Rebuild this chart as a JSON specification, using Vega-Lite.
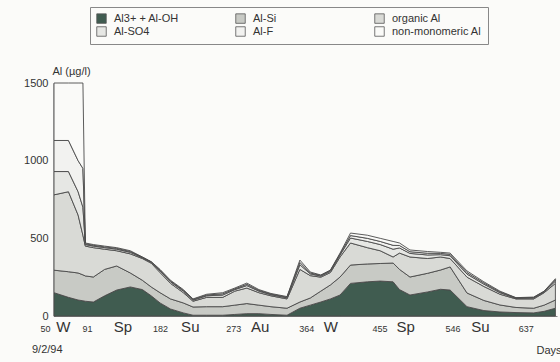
{
  "$schema": "https://vega.github.io/schema/vega-lite/v6.json",
  "width": 503,
  "height": 233,
  "autosize": {"type": "none"},
  "padding": {"left": 54, "top": 83, "right": 3, "bottom": 46},
  "background": "#fbfbf9",
  "config": {
    "font": "Liberation Sans",
    "view": {"stroke": null},
    "axis": {"grid": false, "labelColor": "#333", "titleColor": "#333", "domainColor": "#333", "ticks": false}
  },
  "datasets": {
    "al": [
      {"d":50,"s":"Al3+ + Al-OH","i":1,"v":150},{"d":50,"s":"Al-Si","i":2,"v":145},{"d":50,"s":"organic Al","i":3,"v":485},{"d":50,"s":"Al-SO4","i":4,"v":150},{"d":50,"s":"Al-F","i":5,"v":200},{"d":50,"s":"non-monomeric Al","i":6,"v":370},
      {"d":68,"s":"Al3+ + Al-OH","i":1,"v":120},{"d":68,"s":"Al-Si","i":2,"v":165},{"d":68,"s":"organic Al","i":3,"v":515},{"d":68,"s":"Al-SO4","i":4,"v":130},{"d":68,"s":"Al-F","i":5,"v":200},{"d":68,"s":"non-monomeric Al","i":6,"v":370},
      {"d":80,"s":"Al3+ + Al-OH","i":1,"v":103},{"d":80,"s":"Al-Si","i":2,"v":174},{"d":80,"s":"organic Al","i":3,"v":373},{"d":80,"s":"Al-SO4","i":4,"v":150},{"d":80,"s":"Al-F","i":5,"v":200},{"d":80,"s":"non-monomeric Al","i":6,"v":500},
      {"d":86,"s":"Al3+ + Al-OH","i":1,"v":98},{"d":86,"s":"Al-Si","i":2,"v":167},{"d":86,"s":"organic Al","i":3,"v":255},{"d":86,"s":"Al-SO4","i":4,"v":180},{"d":86,"s":"Al-F","i":5,"v":250},{"d":86,"s":"non-monomeric Al","i":6,"v":550},
      {"d":89,"s":"Al3+ + Al-OH","i":1,"v":95},{"d":89,"s":"Al-Si","i":2,"v":163},{"d":89,"s":"organic Al","i":3,"v":192},{"d":89,"s":"Al-SO4","i":4,"v":10},{"d":89,"s":"Al-F","i":5,"v":5},{"d":89,"s":"non-monomeric Al","i":6,"v":5},
      {"d":99,"s":"Al3+ + Al-OH","i":1,"v":90},{"d":99,"s":"Al-Si","i":2,"v":161},{"d":99,"s":"organic Al","i":3,"v":189},{"d":99,"s":"Al-SO4","i":4,"v":10},{"d":99,"s":"Al-F","i":5,"v":5},{"d":99,"s":"non-monomeric Al","i":6,"v":5},
      {"d":113,"s":"Al3+ + Al-OH","i":1,"v":130},{"d":113,"s":"Al-Si","i":2,"v":170},{"d":113,"s":"organic Al","i":3,"v":130},{"d":113,"s":"Al-SO4","i":4,"v":10},{"d":113,"s":"Al-F","i":5,"v":5},{"d":113,"s":"non-monomeric Al","i":6,"v":5},
      {"d":128,"s":"Al3+ + Al-OH","i":1,"v":167},{"d":128,"s":"Al-Si","i":2,"v":155},{"d":128,"s":"organic Al","i":3,"v":98},{"d":128,"s":"Al-SO4","i":4,"v":10},{"d":128,"s":"Al-F","i":5,"v":5},{"d":128,"s":"non-monomeric Al","i":6,"v":5},
      {"d":145,"s":"Al3+ + Al-OH","i":1,"v":187},{"d":145,"s":"Al-Si","i":2,"v":90},{"d":145,"s":"organic Al","i":3,"v":123},{"d":145,"s":"Al-SO4","i":4,"v":10},{"d":145,"s":"Al-F","i":5,"v":5},{"d":145,"s":"non-monomeric Al","i":6,"v":5},
      {"d":160,"s":"Al3+ + Al-OH","i":1,"v":170},{"d":160,"s":"Al-Si","i":2,"v":60},{"d":160,"s":"organic Al","i":3,"v":140},{"d":160,"s":"Al-SO4","i":4,"v":5},{"d":160,"s":"Al-F","i":5,"v":3},{"d":160,"s":"non-monomeric Al","i":6,"v":2},
      {"d":171,"s":"Al3+ + Al-OH","i":1,"v":130},{"d":171,"s":"Al-Si","i":2,"v":57},{"d":171,"s":"organic Al","i":3,"v":153},{"d":171,"s":"Al-SO4","i":4,"v":5},{"d":171,"s":"Al-F","i":5,"v":3},{"d":171,"s":"non-monomeric Al","i":6,"v":2},
      {"d":182,"s":"Al3+ + Al-OH","i":1,"v":84},{"d":182,"s":"Al-Si","i":2,"v":66},{"d":182,"s":"organic Al","i":3,"v":130},{"d":182,"s":"Al-SO4","i":4,"v":10},{"d":182,"s":"Al-F","i":5,"v":5},{"d":182,"s":"non-monomeric Al","i":6,"v":5},
      {"d":195,"s":"Al3+ + Al-OH","i":1,"v":45},{"d":195,"s":"Al-Si","i":2,"v":65},{"d":195,"s":"organic Al","i":3,"v":100},{"d":195,"s":"Al-SO4","i":4,"v":10},{"d":195,"s":"Al-F","i":5,"v":5},{"d":195,"s":"non-monomeric Al","i":6,"v":5},
      {"d":211,"s":"Al3+ + Al-OH","i":1,"v":20},{"d":211,"s":"Al-Si","i":2,"v":64},{"d":211,"s":"organic Al","i":3,"v":66},{"d":211,"s":"Al-SO4","i":4,"v":10},{"d":211,"s":"Al-F","i":5,"v":5},{"d":211,"s":"non-monomeric Al","i":6,"v":5},
      {"d":223,"s":"Al3+ + Al-OH","i":1,"v":5},{"d":223,"s":"Al-Si","i":2,"v":53},{"d":223,"s":"organic Al","i":3,"v":37},{"d":223,"s":"Al-SO4","i":4,"v":7},{"d":223,"s":"Al-F","i":5,"v":4},{"d":223,"s":"non-monomeric Al","i":6,"v":4},
      {"d":240,"s":"Al3+ + Al-OH","i":1,"v":5},{"d":240,"s":"Al-Si","i":2,"v":55},{"d":240,"s":"organic Al","i":3,"v":60},{"d":240,"s":"Al-SO4","i":4,"v":10},{"d":240,"s":"Al-F","i":5,"v":5},{"d":240,"s":"non-monomeric Al","i":6,"v":5},
      {"d":260,"s":"Al3+ + Al-OH","i":1,"v":5},{"d":260,"s":"Al-Si","i":2,"v":55},{"d":260,"s":"organic Al","i":3,"v":60},{"d":260,"s":"Al-SO4","i":4,"v":15},{"d":260,"s":"Al-F","i":5,"v":8},{"d":260,"s":"non-monomeric Al","i":6,"v":7},
      {"d":275,"s":"Al3+ + Al-OH","i":1,"v":10},{"d":275,"s":"Al-Si","i":2,"v":60},{"d":275,"s":"organic Al","i":3,"v":90},{"d":275,"s":"Al-SO4","i":4,"v":10},{"d":275,"s":"Al-F","i":5,"v":5},{"d":275,"s":"non-monomeric Al","i":6,"v":5},
      {"d":290,"s":"Al3+ + Al-OH","i":1,"v":15},{"d":290,"s":"Al-Si","i":2,"v":65},{"d":290,"s":"organic Al","i":3,"v":100},{"d":290,"s":"Al-SO4","i":4,"v":16},{"d":290,"s":"Al-F","i":5,"v":8},{"d":290,"s":"non-monomeric Al","i":6,"v":8},
      {"d":305,"s":"Al3+ + Al-OH","i":1,"v":15},{"d":305,"s":"Al-Si","i":2,"v":55},{"d":305,"s":"organic Al","i":3,"v":80},{"d":305,"s":"Al-SO4","i":4,"v":10},{"d":305,"s":"Al-F","i":5,"v":5},{"d":305,"s":"non-monomeric Al","i":6,"v":5},
      {"d":320,"s":"Al3+ + Al-OH","i":1,"v":10},{"d":320,"s":"Al-Si","i":2,"v":50},{"d":320,"s":"organic Al","i":3,"v":70},{"d":320,"s":"Al-SO4","i":4,"v":7},{"d":320,"s":"Al-F","i":5,"v":4},{"d":320,"s":"non-monomeric Al","i":6,"v":4},
      {"d":340,"s":"Al3+ + Al-OH","i":1,"v":5},{"d":340,"s":"Al-Si","i":2,"v":45},{"d":340,"s":"organic Al","i":3,"v":60},{"d":340,"s":"Al-SO4","i":4,"v":7},{"d":340,"s":"Al-F","i":5,"v":4},{"d":340,"s":"non-monomeric Al","i":6,"v":4},
      {"d":356,"s":"Al3+ + Al-OH","i":1,"v":50},{"d":356,"s":"Al-Si","i":2,"v":40},{"d":356,"s":"organic Al","i":3,"v":210},{"d":356,"s":"Al-SO4","i":4,"v":30},{"d":356,"s":"Al-F","i":5,"v":15},{"d":356,"s":"non-monomeric Al","i":6,"v":15},
      {"d":369,"s":"Al3+ + Al-OH","i":1,"v":70},{"d":369,"s":"Al-Si","i":2,"v":46},{"d":369,"s":"organic Al","i":3,"v":144},{"d":369,"s":"Al-SO4","i":4,"v":11},{"d":369,"s":"Al-F","i":5,"v":6},{"d":369,"s":"non-monomeric Al","i":6,"v":6},
      {"d":382,"s":"Al3+ + Al-OH","i":1,"v":90},{"d":382,"s":"Al-Si","i":2,"v":70},{"d":382,"s":"organic Al","i":3,"v":90},{"d":382,"s":"Al-SO4","i":4,"v":7},{"d":382,"s":"Al-F","i":5,"v":4},{"d":382,"s":"non-monomeric Al","i":6,"v":3},
      {"d":394,"s":"Al3+ + Al-OH","i":1,"v":110},{"d":394,"s":"Al-Si","i":2,"v":90},{"d":394,"s":"organic Al","i":3,"v":80},{"d":394,"s":"Al-SO4","i":4,"v":8},{"d":394,"s":"Al-F","i":5,"v":4},{"d":394,"s":"non-monomeric Al","i":6,"v":4},
      {"d":406,"s":"Al3+ + Al-OH","i":1,"v":135},{"d":406,"s":"Al-Si","i":2,"v":116},{"d":406,"s":"organic Al","i":3,"v":129},{"d":406,"s":"Al-SO4","i":4,"v":13},{"d":406,"s":"Al-F","i":5,"v":6},{"d":406,"s":"non-monomeric Al","i":6,"v":6},
      {"d":419,"s":"Al3+ + Al-OH","i":1,"v":210},{"d":419,"s":"Al-Si","i":2,"v":118},{"d":419,"s":"organic Al","i":3,"v":142},{"d":419,"s":"Al-SO4","i":4,"v":32},{"d":419,"s":"Al-F","i":5,"v":16},{"d":419,"s":"non-monomeric Al","i":6,"v":16},
      {"d":440,"s":"Al3+ + Al-OH","i":1,"v":220},{"d":440,"s":"Al-Si","i":2,"v":115},{"d":440,"s":"organic Al","i":3,"v":105},{"d":440,"s":"Al-SO4","i":4,"v":40},{"d":440,"s":"Al-F","i":5,"v":20},{"d":440,"s":"non-monomeric Al","i":6,"v":20},
      {"d":456,"s":"Al3+ + Al-OH","i":1,"v":225},{"d":456,"s":"Al-Si","i":2,"v":113},{"d":456,"s":"organic Al","i":3,"v":82},{"d":456,"s":"Al-SO4","i":4,"v":40},{"d":456,"s":"Al-F","i":5,"v":20},{"d":456,"s":"non-monomeric Al","i":6,"v":20},
      {"d":472,"s":"Al3+ + Al-OH","i":1,"v":220},{"d":472,"s":"Al-Si","i":2,"v":121},{"d":472,"s":"organic Al","i":3,"v":39},{"d":472,"s":"Al-SO4","i":4,"v":50},{"d":472,"s":"Al-F","i":5,"v":25},{"d":472,"s":"non-monomeric Al","i":6,"v":25},
      {"d":480,"s":"Al3+ + Al-OH","i":1,"v":170},{"d":480,"s":"Al-Si","i":2,"v":130},{"d":480,"s":"organic Al","i":3,"v":105},{"d":480,"s":"Al-SO4","i":4,"v":33},{"d":480,"s":"Al-F","i":5,"v":16},{"d":480,"s":"non-monomeric Al","i":6,"v":16},
      {"d":493,"s":"Al3+ + Al-OH","i":1,"v":135},{"d":493,"s":"Al-Si","i":2,"v":116},{"d":493,"s":"organic Al","i":3,"v":129},{"d":493,"s":"Al-SO4","i":4,"v":23},{"d":493,"s":"Al-F","i":5,"v":11},{"d":493,"s":"non-monomeric Al","i":6,"v":11},
      {"d":515,"s":"Al3+ + Al-OH","i":1,"v":155},{"d":515,"s":"Al-Si","i":2,"v":120},{"d":515,"s":"organic Al","i":3,"v":95},{"d":515,"s":"Al-SO4","i":4,"v":23},{"d":515,"s":"Al-F","i":5,"v":11},{"d":515,"s":"non-monomeric Al","i":6,"v":11},
      {"d":531,"s":"Al3+ + Al-OH","i":1,"v":172},{"d":531,"s":"Al-Si","i":2,"v":124},{"d":531,"s":"organic Al","i":3,"v":84},{"d":531,"s":"Al-SO4","i":4,"v":15},{"d":531,"s":"Al-F","i":5,"v":8},{"d":531,"s":"non-monomeric Al","i":6,"v":7},
      {"d":543,"s":"Al3+ + Al-OH","i":1,"v":167},{"d":543,"s":"Al-Si","i":2,"v":149},{"d":543,"s":"organic Al","i":3,"v":54},{"d":543,"s":"Al-SO4","i":4,"v":18},{"d":543,"s":"Al-F","i":5,"v":9},{"d":543,"s":"non-monomeric Al","i":6,"v":8},
      {"d":564,"s":"Al3+ + Al-OH","i":1,"v":60},{"d":564,"s":"Al-Si","i":2,"v":88},{"d":564,"s":"organic Al","i":3,"v":102},{"d":564,"s":"Al-SO4","i":4,"v":20},{"d":564,"s":"Al-F","i":5,"v":10},{"d":564,"s":"non-monomeric Al","i":6,"v":10},
      {"d":585,"s":"Al3+ + Al-OH","i":1,"v":35},{"d":585,"s":"Al-Si","i":2,"v":65},{"d":585,"s":"organic Al","i":3,"v":90},{"d":585,"s":"Al-SO4","i":4,"v":15},{"d":585,"s":"Al-F","i":5,"v":8},{"d":585,"s":"non-monomeric Al","i":6,"v":7},
      {"d":605,"s":"Al3+ + Al-OH","i":1,"v":26},{"d":605,"s":"Al-Si","i":2,"v":45},{"d":605,"s":"organic Al","i":3,"v":69},{"d":605,"s":"Al-SO4","i":4,"v":10},{"d":605,"s":"Al-F","i":5,"v":5},{"d":605,"s":"non-monomeric Al","i":6,"v":5},
      {"d":625,"s":"Al3+ + Al-OH","i":1,"v":22},{"d":625,"s":"Al-Si","i":2,"v":33},{"d":625,"s":"organic Al","i":3,"v":55},{"d":625,"s":"Al-SO4","i":4,"v":4},{"d":625,"s":"Al-F","i":5,"v":2},{"d":625,"s":"non-monomeric Al","i":6,"v":2},
      {"d":647,"s":"Al3+ + Al-OH","i":1,"v":20},{"d":647,"s":"Al-Si","i":2,"v":30},{"d":647,"s":"organic Al","i":3,"v":60},{"d":647,"s":"Al-SO4","i":4,"v":6},{"d":647,"s":"Al-F","i":5,"v":3},{"d":647,"s":"non-monomeric Al","i":6,"v":3},
      {"d":660,"s":"Al3+ + Al-OH","i":1,"v":30},{"d":660,"s":"Al-Si","i":2,"v":40},{"d":660,"s":"organic Al","i":3,"v":80},{"d":660,"s":"Al-SO4","i":4,"v":5},{"d":660,"s":"Al-F","i":5,"v":3},{"d":660,"s":"non-monomeric Al","i":6,"v":2},
      {"d":674,"s":"Al3+ + Al-OH","i":1,"v":50},{"d":674,"s":"Al-Si","i":2,"v":53},{"d":674,"s":"organic Al","i":3,"v":107},{"d":674,"s":"Al-SO4","i":4,"v":15},{"d":674,"s":"Al-F","i":5,"v":8},{"d":674,"s":"non-monomeric Al","i":6,"v":7}
    ],
    "notes": [{"d": 50, "v": 0, "t": "9/2/94"}]
  },
  "encoding": {
    "x": {
      "field": "d", "type": "quantitative",
      "scale": {"domain": [50, 676], "nice": false, "zero": false},
      "axis": {
        "values": [50, 61, 91, 135, 182, 219, 273, 306, 364, 394, 455, 487, 546, 580, 637],
        "labelExpr": "datum.value == 61 || datum.value == 394 ? 'W' : datum.value == 135 || datum.value == 487 ? 'Sp' : datum.value == 219 || datum.value == 580 ? 'Su' : datum.value == 306 ? 'Au' : datum.label",
        "labelFontSize": {"condition": {"test": "indexof([61,135,219,306,394,487,580], datum.value) >= 0", "value": 15}, "value": 9},
        "labelOffset": {"condition": {"test": "datum.value == 50", "value": -9}, "value": 0},
        "labelBaseline": "alphabetic",
        "labelPadding": 15,
        "labelOverlap": false,
        "labelFlush": false,
        "domain": true,
        "domainWidth": 0.8,
        "domainColor": "#666",
        "title": "Days",
        "titleFontSize": 11,
        "titleFontWeight": "normal",
        "titleAnchor": "end",
        "titleAlign": "right",
        "titleBaseline": "alphabetic",
        "titleX": 507,
        "titleY": 37
      }
    },
    "y": {
      "field": "v", "type": "quantitative", "stack": "zero",
      "scale": {"domain": [0, 1500], "nice": false},
      "axis": {
        "values": [0, 500, 1000, 1500],
        "format": "d",
        "labelFontSize": 11,
        "labelPadding": 6,
        "domainWidth": 1.6,
        "domainColor": "#333",
        "title": "Al (µg/l)",
        "titleFontSize": 11,
        "titleFontWeight": "normal",
        "titleAngle": 0,
        "titleAlign": "left",
        "titleBaseline": "alphabetic",
        "titleX": -2,
        "titleY": -9
      }
    }
  },
  "layer": [
    {
      "data": {"name": "al"},
      "mark": {"type": "area", "stroke": "#4a4a4a", "strokeWidth": 0.9, "interpolate": "linear"},
      "encoding": {
        "order": {"field": "i", "type": "quantitative", "sort": "ascending"},
        "fill": {
          "field": "s", "type": "nominal",
          "scale": {
            "domain": ["Al3+ + Al-OH", "Al-Si", "organic Al", "Al-SO4", "Al-F", "non-monomeric Al"],
            "range": ["#405c50", "#c8cac5", "#d9dad6", "#e6e7e4", "#f2f2f0", "#fafaf8"]
          },
          "legend": {
            "orient": "none", "legendX": 36, "legendY": -76,
            "direction": "horizontal", "columns": 3, "gridAlign": "all",
            "columnPadding": 30, "rowPadding": 0,
            "title": null, "padding": 6,
            "strokeColor": "#888",
            "symbolType": "square", "symbolSize": 90,
            "symbolStrokeColor": "#555", "symbolStrokeWidth": 0.8,
            "labelFontSize": 11, "labelColor": "#333", "labelOffset": 7
          }
        },
        "strokeDash": {
          "field": "s", "type": "nominal",
          "scale": {
            "domain": ["Al3+ + Al-OH", "Al-Si", "organic Al", "Al-SO4", "Al-F", "non-monomeric Al"],
            "range": [[1, 0], [4, 2], [6, 2, 2, 2], [2, 2], [5, 3], [1, 0]]
          },
          "legend": null
        }
      }
    },
    {
      "data": {"name": "notes"},
      "mark": {"type": "text", "fontSize": 11, "color": "#333", "baseline": "alphabetic", "align": "left", "dx": -22, "dy": 37},
      "encoding": {
        "text": {"field": "t"}
      }
    }
  ]
}
